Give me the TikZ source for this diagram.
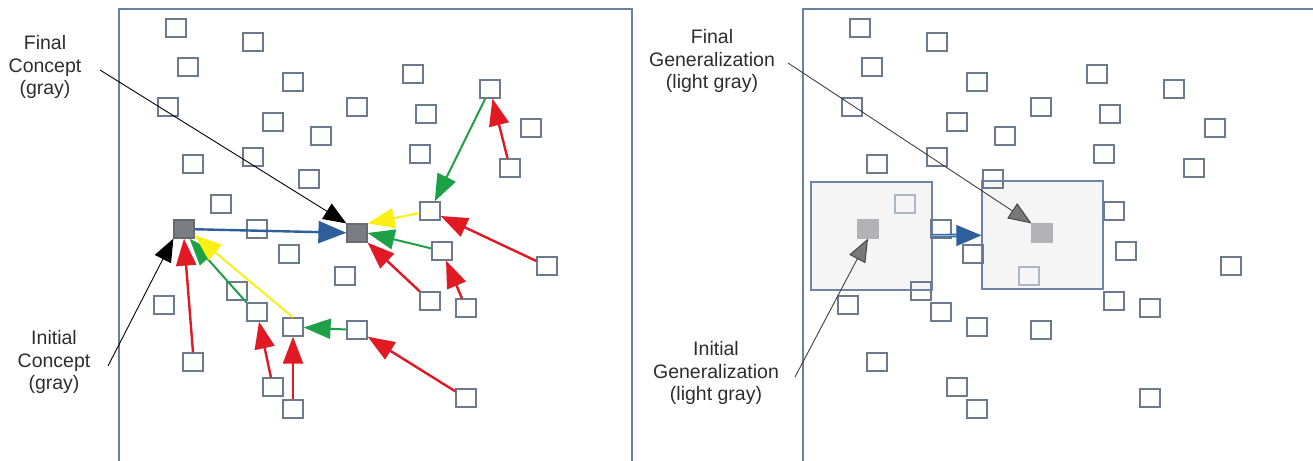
\documentclass[tikz,border=0pt]{standalone}
\usepackage{fontspec}
\setmainfont{Liberation Sans}
\usetikzlibrary{arrows.meta}
\definecolor{framec}{RGB}{105,128,160}
\definecolor{sqc}{RGB}{108,122,142}
\definecolor{faintc}{RGB}{172,182,200}
\definecolor{boxfill}{RGB}{245,245,246}
\definecolor{boxline}{RGB}{112,132,168}
\definecolor{darkfill}{RGB}{122,125,132}
\definecolor{lgfill}{RGB}{178,178,180}
\definecolor{redc}{RGB}{225,25,35}
\definecolor{greenc}{RGB}{30,160,70}
\definecolor{yellowc}{RGB}{250,240,20}
\definecolor{bluec}{RGB}{45,95,155}
\definecolor{lightbluec}{RGB}{150,180,215}
\definecolor{textc}{RGB}{45,45,45}
\definecolor{grayhead}{RGB}{120,120,120}
\def\sqlist{1/176/28, 2/253/42, 3/188/67, 4/293/82, 5/413/74, 6/490/89, 7/168/107, 8/273/122, 9/357/107, 10/426/114, 11/321/136, 12/531/128, 13/193/164, 14/253/157, 15/420/154, 16/510/168, 17/309/179, 18/221/204, 19/430/211, 20/257/229, 21/442/251, 22/547/266, 23/289/254, 24/345/276, 25/237/291, 26/164/305, 27/257/312, 28/293/327, 29/357/330, 30/430/301, 31/466/308, 32/193/362, 33/273/387, 34/293/409, 35/466/398}
\begin{document}
\begin{tikzpicture}[x=1pt,y=-1pt,
  frame/.style={draw=framec, line width=1.4pt},
  sq/.style={draw=sqc, line width=1.2pt, minimum width=20pt, minimum height=18pt, inner sep=0pt},
  faintsq/.style={sq, draw=faintc},
  darksq/.style={sq, fill=darkfill, draw=darkfill!85!black},
  lgsq/.style={sq, fill=lgfill, draw=lgfill},
  gbox/.style={draw=boxline, fill=boxfill, line width=1.2pt, minimum width=121pt, minimum height=108pt, inner sep=0pt},
  tip/.style={-{Triangle[length=27pt,width=20pt]}},
  redarr/.style={tip, draw=redc, line width=2.4pt},
  greenarr/.style={tip, draw=greenc, line width=2pt},
  yellowarr/.style={tip, draw=yellowc, line width=2pt},
  bluearr/.style={-{Triangle[length=28pt,width=22pt]}, draw=bluec, line width=2.4pt},
  blackarr/.style={-{Triangle[length=23pt,width=18pt]}, draw=black, line width=0.9pt},
  grayarr/.style={-{Triangle[length=23pt,width=18pt,fill=grayhead]}, draw=black!75, line width=0.9pt},
  bluedbl/.style={-{Triangle[length=25pt,width=21pt]}, draw=bluec, line width=1.1pt, double=lightbluec, double distance=1.4pt},
  lbl/.style={align=center, font=\fontsize{19.5}{22.5}\selectfont, inner sep=0pt, text=textc}]
\useasboundingbox (0,0) rectangle (1313,460);
\clip (0,0) rectangle (1313,460);
% panels
\draw[frame] (119,9) rectangle (632,490);
\draw[frame] (803,9) rectangle (1340,490);
% left panel squares
\foreach \i/\x/\y in \sqlist {\node[sq] (L\i) at (\x,\y) {};}
\node[darksq] (LA) at (184,229) {};
\node[darksq] (LB) at (357,233) {};
% right panel
\node[gbox] (boxL) at (871.5,236) {};
\node[gbox] (boxR) at (1042.5,235) {};
\foreach \i/\x/\y in \sqlist {\ifnum\i=18 \else\ifnum\i=24 \else\node[sq] (R\i) at ({\x+684},\y) {};\fi\fi}
\node[faintsq] (R18) at (905,204) {};
\node[faintsq] (R24) at (1029,276) {};
\node[lgsq] (RA) at (868,229) {};
\node[lgsq] (RB) at (1042,233) {};
% left arrows
\draw[bluearr] (LA) -- (LB);
\draw[redarr] (L32.north) -- (LA.south);
\draw[greenarr] (L27.north west) -- (LA.300);
\draw[yellowarr] (L28.north) -- (LA.330);
\draw[redarr] (L33) -- (L27);
\draw[redarr] (L34) -- (L28);
\draw[greenarr] (L29) -- (L28);
\draw[redarr] (L35) -- (L29);
\draw[yellowarr] (L19) -- (LB.north east);
\draw[greenarr] (L6) -- (L19);
\draw[redarr] (L16) -- (L6);
\draw[greenarr] (L21) -- (LB.east);
\draw[redarr] (L30) -- (LB.south east);
\draw[redarr] (L31) -- (L21);
\draw[redarr] (L22) -- (L19);
% labels left
\node[lbl] (tFC) at (45,67) {Final\\Concept\\(gray)};
\coordinate (cFC) at (100,70);
\draw[blackarr] (cFC) -- (LB.north west);
\node[lbl] (tIC) at (54,362) {Initial\\Concept\\(gray)};
\coordinate (cIC) at (108,366);
\draw[blackarr] (cIC) -- (LA.south west);
% labels right
\node[lbl] (tFG) at (712,61) {Final\\Generalization\\(light gray)};
\coordinate (cFG) at (788,63);
\draw[grayarr] (cFG) -- (RB.north west);
\node[lbl] (tIG) at (716,373) {Initial\\Generalization\\(light gray)};
\coordinate (cIG) at (795,377);
\draw[grayarr] (cIG) -- (RA.south);
\draw[bluedbl] (boxL) -- (boxR);
\end{tikzpicture}
\end{document}
